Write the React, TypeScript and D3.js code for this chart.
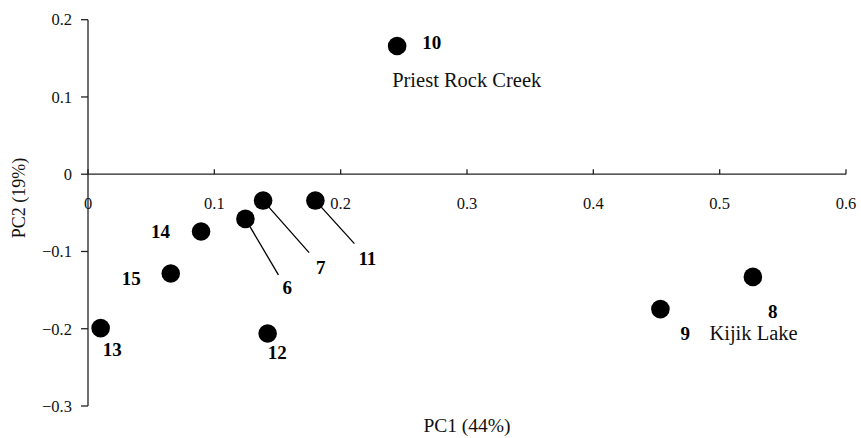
import React from "react";
import * as d3 from "d3";

const sites = ["6", "7", "8", "9", "10", "11", "12", "13", "14", "15"];
const pc1 = [0.1246, 0.1386, 0.5263, 0.4531, 0.2447, 0.18, 0.1422, 0.01, 0.0895, 0.0655];
const pc2 = [-0.0578, -0.0341, -0.1329, -0.1746, 0.166, -0.0341, -0.2062, -0.1992, -0.0742, -0.1285];
const xTicks = [0, 0.1, 0.2, 0.3, 0.4, 0.5, 0.6];
const yTicks = [0.2, 0.1, 0, -0.1, -0.2, -0.3];
const placeNames = [
  { site: "10", name: "Priest Rock Creek" },
  { site: "9", name: "Kijik Lake" },
];

// label layout (pixel offsets from point): dx, dy, leader line
const labelLayout: Record<string, { dx: number; dy: number; leader?: [number, number] }> = {
  "6": { dx: 37, dy: 75, leader: [33, 56] },
  "7": { dx: 53, dy: 73, leader: [46, 52] },
  "8": { dx: 15, dy: 41 },
  "9": { dx: 20, dy: 31 },
  "10": { dx: 25, dy: 3 },
  "11": { dx: 43, dy: 64, leader: [39, 43] },
  "12": { dx: 0, dy: 25 },
  "13": { dx: 2, dy: 28 },
  "14": { dx: -50, dy: 6 },
  "15": { dx: -49, dy: 12 },
};
const nameLayout: Record<string, { dx: number; dy: number }> = {
  "10": { dx: -5, dy: 41 },
  "9": { dx: 49, dy: 31 },
};

export default function App() {
  const W = 861, H = 438;
  const x = d3.scaleLinear().domain([0, 0.6]).range([88, 846]);
  const y = d3.scaleLinear().domain([-0.3, 0.2]).range([406, 19.7]);
  const font = "'Liberation Serif', 'Times New Roman', serif";
  const axisColor = "#222";
  const y0 = y(0);
  const fmt = (v: number) => (v === 0 ? "0" : v < 0 ? "\u2212" + d3.format(".1f")(-v) : d3.format(".1f")(v));
  return (
    <svg width={W} height={H} style={{ position: "absolute", left: 0, top: 0 }} fontFamily={font}>
      <rect width={W} height={H} fill="#fff" />
      {/* y axis */}
      <line x1={x(0)} x2={x(0)} y1={y(0.2)} y2={y(-0.3)} stroke={axisColor} strokeWidth={1.3} />
      {yTicks.map((t) => (
        <g key={"y" + t}>
          <line x1={x(0) - 7} x2={x(0)} y1={y(t)} y2={y(t)} stroke={axisColor} strokeWidth={1.3} />
          <text x={x(0) - 16} y={y(t)} dy="0.35em" textAnchor="end" fontSize={16.5} fill="#111">
            {fmt(t)}
          </text>
        </g>
      ))}
      {/* x axis at y=0 */}
      <line x1={x(0)} x2={x(0.6)} y1={y0} y2={y0} stroke={axisColor} strokeWidth={1.3} />
      {xTicks.map((t) => (
        <g key={"x" + t}>
          <line x1={x(t)} x2={x(t)} y1={y0 - 5} y2={y0} stroke={axisColor} strokeWidth={1.3} />
          <text x={x(t)} y={y0 + 35} textAnchor="middle" fontSize={16.5} fill="#111">
            {fmt(t)}
          </text>
        </g>
      ))}
      {/* axis titles */}
      <text x={467} y={432} textAnchor="middle" fontSize={19.5} fill="#111">PC1 (44%)</text>
      <text transform={`translate(25,198) rotate(-90)`} textAnchor="middle" fontSize={18} fill="#111">
        PC2 (19%)
      </text>
      {/* points */}
      {sites.map((s, i) => {
        const cx = x(pc1[i]);
        const cy = y(pc2[i]);
        const L = labelLayout[s];
        return (
          <g key={s}>
            {L.leader && (
              <line x1={cx} y1={cy} x2={cx + L.leader[0]} y2={cy + L.leader[1]} stroke="#000" strokeWidth={1.3} />
            )}
            <circle cx={cx} cy={cy} r={9.3} fill="#000" />
            <text x={cx + L.dx} y={cy + L.dy} fontSize={19} fontWeight="bold" fill="#000">
              {s}
            </text>
          </g>
        );
      })}
      {placeNames.map((p) => {
        const i = sites.indexOf(p.site);
        const N = nameLayout[p.site];
        return (
          <text key={p.name} x={x(pc1[i]) + N.dx} y={y(pc2[i]) + N.dy} fontSize={20.5} fill="#111">
            {p.name}
          </text>
        );
      })}
    </svg>
  );
}
